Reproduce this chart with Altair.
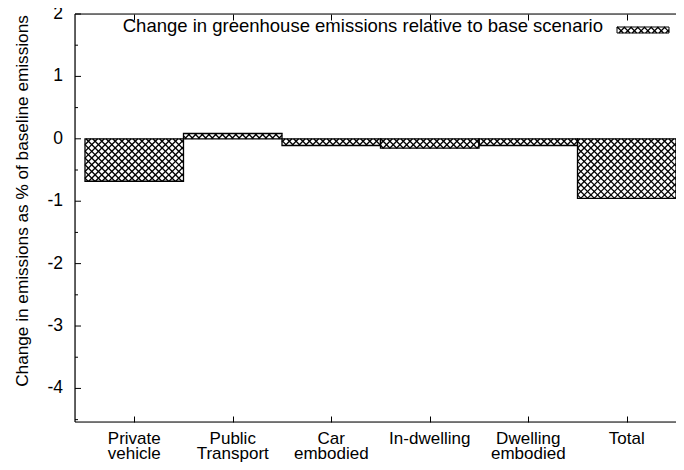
import numpy as np
import pandas as pd
import altair as alt

# ---- data ----
categories = ["Private\nvehicle", "Public\nTransport", "Car\nembodied",
              "In-dwelling", "Dwelling\nembodied", "Total"]
values = [-0.68, 0.085, -0.107, -0.15, -0.107, -0.955]
positions = [0, 1, 2, 3, 4, 5]
y_ticks = [-4, -3, -2, -1, 0, 1, 2]
y_minor = [-4.5, -3.5, -2.5, -1.5, -0.5, 0.5, 1.5]
legend_label = "Change in greenhouse emissions relative to base scenario"
y_title = "Change in emissions as % of baseline emissions"

# ---- layout ----
W, H = 601, 408
XMIN, XMAX = -0.6015, 5.5
YMIN, YMAX = -4.538, 2.0
kx = W / (XMAX - XMIN)
ky = H / (YMAX - YMIN)
PERIOD = 6.7
FONT = "Liberation Sans"


def hatch_px(x0, x1, yt, yb, period):
    segs = []
    kmin = int(np.floor((yt - x1) / period)) - 1
    kmax = int(np.ceil((yb - x0) / period)) + 1
    for k in range(kmin, kmax + 1):
        c = k * period
        a = max(x0, yt - c)
        b = min(x1, yb - c)
        if b - a > 0.3:
            segs.append((a, a + c, b, b + c))
    kmin = int(np.floor((yt + x0) / period)) - 1
    kmax = int(np.ceil((yb + x1) / period)) + 1
    for k in range(kmin, kmax + 1):
        c = k * period
        a = max(x0, c - yb)
        b = min(x1, c - yt)
        if b - a > 0.3:
            segs.append((a, c - a, b, c - b))
    return segs


bars = pd.DataFrame({
    "pos": positions,
    "lo": [p - 0.5 for p in positions],
    "hi": [p + 0.5 for p in positions],
    "value": values,
    "zero": [0.0] * len(values),
})

# hatch lines for bars (derived from bar data, in data units)
rows = []
for p, v in zip(positions, values):
    x0 = (p - 0.5 - XMIN) * kx
    x1 = (p + 0.5 - XMIN) * kx
    yt = (YMAX - max(v, 0)) * ky
    yb = (YMAX - min(v, 0)) * ky
    for (ax, ay, bx, by) in hatch_px(x0, x1, yt, yb, PERIOD):
        rows.append({"xa": XMIN + ax / kx, "ya": YMAX - ay / ky,
                     "xb": XMIN + bx / kx, "yb": YMAX - by / ky})
hatch = pd.DataFrame(rows)

# legend sample box (pixel coords inside plot)
LX0, LX1, LY0, LY1 = 542, 594, 13, 19
leg_rows = [{"xa": a, "ya": b, "xb": c, "yb": d}
            for (a, b, c, d) in hatch_px(LX0, LX1, LY0, LY1, PERIOD)]
leg_hatch = pd.DataFrame(leg_rows)

xscale = alt.Scale(domain=[XMIN, XMAX], nice=False, zero=False)
yscale = alt.Scale(domain=[YMIN, YMAX], nice=False, zero=False)

# category label lines
line1 = pd.DataFrame({"pos": positions, "t": [c.split("\n")[0] for c in categories]})
line2 = pd.DataFrame({"pos": positions,
                      "t": [c.split("\n")[1] if "\n" in c else "" for c in categories]})

bottom_axis = alt.Axis(
    orient="bottom", values=positions, offset=-6, tickSize=6, tickColor="black",
    tickWidth=1, domain=False, grid=False, title=None, labels=False,
)
top_axis = alt.Axis(
    orient="top", values=positions, offset=-6, tickSize=6, tickColor="black",
    tickWidth=1, domain=False, grid=False, title=None, labels=False,
)

bar_fill = alt.Chart(bars).mark_rect(fill="white").encode(
    x=alt.X("lo:Q", scale=xscale, axis=bottom_axis),
    x2="hi:Q",
    y=alt.Y("value:Q", scale=yscale, axis=None),
    y2="zero:Q",
)

bar_hatch = alt.Chart(hatch).mark_rule(color="black", strokeWidth=1.3).encode(
    x=alt.X("xa:Q", scale=xscale, axis=top_axis),
    x2="xb:Q",
    y=alt.Y("ya:Q", scale=yscale, axis=None),
    y2="yb:Q",
)

bar_line = alt.Chart(bars).mark_rect(fillOpacity=0, stroke="black", strokeWidth=1.3).encode(
    x=alt.X("lo:Q", scale=xscale, axis=None),
    x2="hi:Q",
    y=alt.Y("value:Q", scale=yscale, axis=None),
    y2="zero:Q",
)

lab1 = alt.Chart(line1).mark_text(
    align="center", baseline="alphabetic", font=FONT, fontSize=17, color="black"
).encode(x=alt.X("pos:Q", scale=xscale, axis=None), y=alt.value(H + 22), text="t:N")
lab2 = alt.Chart(line2).mark_text(
    align="center", baseline="alphabetic", font=FONT, fontSize=17, color="black"
).encode(x=alt.X("pos:Q", scale=xscale, axis=None), y=alt.value(H + 36.5), text="t:N")

# y axis drawn by hand (inward ticks, gnuplot style)
major_df = pd.DataFrame({"v": y_ticks, "lab": [str(t) for t in y_ticks]})
major_ticks = alt.Chart(major_df).mark_rule(color="black", strokeWidth=1).encode(
    x=alt.value(0), x2=alt.value(6),
    y=alt.Y("v:Q", scale=yscale, axis=None),
)
major_labels = alt.Chart(major_df).mark_text(
    align="right", baseline="middle", font=FONT, fontSize=17.5, color="black"
).encode(
    x=alt.value(-12),
    y=alt.Y("v:Q", scale=yscale, axis=None),
    text="lab:N",
)
minor = alt.Chart(pd.DataFrame({"v": y_minor})).mark_rule(color="black", strokeWidth=1).encode(
    x=alt.value(0), x2=alt.value(3),
    y=alt.Y("v:Q", scale=yscale, axis=None),
)

one = pd.DataFrame({"t": [legend_label], "yt": [y_title]})
y_title_mark = alt.Chart(one).mark_text(
    angle=270, align="center", baseline="alphabetic", font=FONT, fontSize=17.2,
    color="black"
).encode(x=alt.value(-46.7), y=alt.value(187), text="yt:N")

# frame (left, top, bottom; the right edge is beyond the picture)
frame_left = alt.Chart(one).mark_rule(color="black", strokeWidth=1.2).encode(
    x=alt.value(0), y=alt.value(0), y2=alt.value(H))
frame_top = alt.Chart(one).mark_rule(color="black", strokeWidth=1.2).encode(
    x=alt.value(0), x2=alt.value(W), y=alt.value(0))
frame_bottom = alt.Chart(one).mark_rule(color="black", strokeWidth=1.2).encode(
    x=alt.value(0), x2=alt.value(W), y=alt.value(H))

leg_box_fill = alt.Chart(one).mark_rect(fill="white").encode(
    x=alt.value(LX0), x2=alt.value(LX1), y=alt.value(LY0), y2=alt.value(LY1))
leg_hatch_layer = alt.Chart(leg_hatch).mark_rule(color="black", strokeWidth=1.2).encode(
    x=alt.X("xa:Q", scale=None, axis=None), x2="xb:Q",
    y=alt.Y("ya:Q", scale=None, axis=None), y2="yb:Q")
leg_box_line = alt.Chart(one).mark_rect(fillOpacity=0, stroke="black", strokeWidth=1).encode(
    x=alt.value(LX0), x2=alt.value(LX1), y=alt.value(LY0), y2=alt.value(LY1))
leg_text = alt.Chart(one).mark_text(
    align="right", baseline="alphabetic", font=FONT, fontSize=18.5, color="black"
).encode(x=alt.value(528), y=alt.value(17.7), text="t:N")

chart = alt.layer(
    bar_fill, bar_hatch, bar_line, lab1, lab2,
    minor, major_ticks, major_labels, y_title_mark,
    frame_left, frame_top, frame_bottom,
    leg_box_fill, leg_hatch_layer, leg_box_line, leg_text,
).properties(
    width=W, height=H,
    autosize=alt.AutoSizeParams(type="none"),
    padding={"left": 67, "top": 6, "right": 0, "bottom": 40},
).configure_view(
    stroke=None
).configure(background="white")

chart.save("out.html", embed_options={"renderer": "svg", "actions": False})
